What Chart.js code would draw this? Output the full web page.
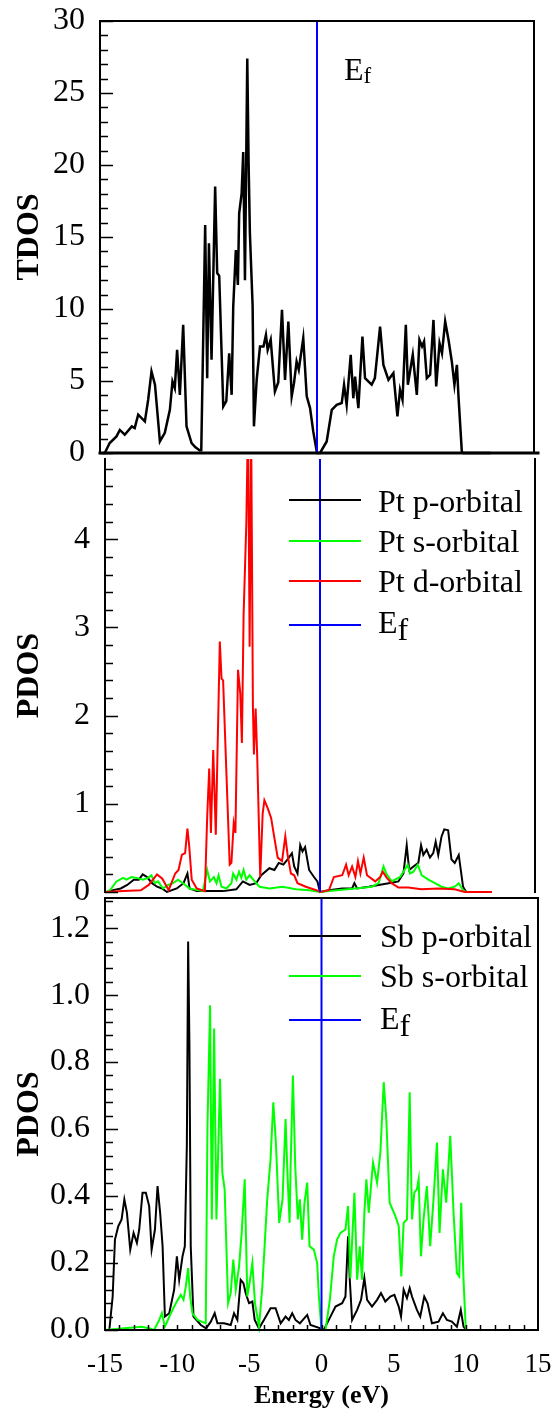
<!DOCTYPE html>
<html><head><meta charset="utf-8">
<script src="https://cdn.jsdelivr.net/npm/chart.js@4.4.1/dist/chart.umd.min.js"></script>
<style>
html,body{margin:0;padding:0;background:#fff;}
body{width:557px;height:1422px;position:relative;overflow:hidden;font-family:"Liberation Serif","Times New Roman",serif;color:#000;}
canvas{position:absolute;left:0;}
.txt{position:absolute;font-size:32px;line-height:32px;white-space:nowrap;}
.sw{position:absolute;height:2px;width:72px;left:289px;}
</style>
</head><body>
<canvas id="c1" width="557" height="475" style="top:0px"></canvas>
<canvas id="c2" width="557" height="490" style="top:430px"></canvas>
<canvas id="c3" width="557" height="552" style="top:870px"></canvas>

<div class="txt" style="left:344px;top:53px">E<span style="font-size:23px;position:relative;top:3px">f</span></div>

<div class="sw" style="top:499px;background:#000"></div>
<div class="txt" style="left:378px;top:485px">Pt p-orbital</div>
<div class="sw" style="top:540px;background:#00ff00"></div>
<div class="txt" style="left:378px;top:525px">Pt s-orbital</div>
<div class="sw" style="top:580px;background:#ff0000"></div>
<div class="txt" style="left:378px;top:565px">Pt d-orbital</div>
<div class="sw" style="top:624px;background:#0000ff"></div>
<div class="txt" style="left:378px;top:606px">E<span style="position:relative;top:7px">f</span></div>

<div class="sw" style="top:935px;background:#000"></div>
<div class="txt" style="left:380px;top:920px">Sb p-orbital</div>
<div class="sw" style="top:975px;background:#00ff00"></div>
<div class="txt" style="left:380px;top:960px">Sb s-orbital</div>
<div class="sw" style="top:1019px;background:#0000ff"></div>
<div class="txt" style="left:380px;top:1002px">E<span style="position:relative;top:7px">f</span></div>

<script>
// ---------- data ----------
const xTicks = [-15, -10, -5, 0, 5, 10, 15];

const energyTDOS = [-14.8,-14.67,-14.33,-13.86,-13.63,-13.29,-12.8,-12.6,-12.36,-11.9,-11.67,-11.44,-11.2,-10.86,-10.52,-10.17,-9.99,-9.83,-9.67,-9.48,-9.25,-9.02,-8.67,-8.4,-8.1,-8.0,-7.73,-7.59,-7.47,-7.29,-7.04,-6.9,-6.76,-6.48,-6.27,-6.07,-5.9,-5.79,-5.61,-5.47,-5.38,-5.21,-5.1,-4.98,-4.92,-4.82,-4.73,-4.64,-4.45,-4.36,-4.17,-3.94,-3.7,-3.53,-3.41,-3.2,-2.91,-2.68,-2.42,-2.21,-1.98,-1.75,-1.59,-1.41,-1.26,-0.95,-0.71,-0.48,-0.26,0.0,0.21,0.67,1.02,1.36,1.71,1.87,2.05,2.33,2.51,2.63,2.86,3.14,3.32,3.78,4.0,4.36,4.59,4.94,5.28,5.56,5.74,5.91,6.14,6.28,6.62,6.9,7.08,7.26,7.4,7.59,7.82,8.05,8.24,8.47,8.64,8.86,9.09,9.32,9.5,9.67,9.78,10.01,10.1,12.0];
const tdos = [0,0,0.69,1.15,1.6,1.27,1.85,1.73,2.66,2.2,3.7,5.66,4.74,0.8,1.4,3.0,4.97,4.5,7.16,4.04,8.9,1.85,0.69,0.4,0.18,0.2,15.83,5.2,14.56,6.47,18.5,12.5,12.3,3.23,3.6,6.93,4.04,10.17,14.1,11.67,16.64,18.03,20.9,12.0,17.8,27.4,20.3,15.3,10.2,1.85,5.08,7.4,7.4,8.2,7.16,7.86,4.27,4.9,9.94,5.08,9.13,3.93,4.85,6.35,5.78,7.97,3.93,3.12,1.5,0,0,0.8,3.0,3.35,3.47,4.74,3.35,6.82,3.8,5.3,3.12,8.09,5.2,4.74,5.2,8.78,6.12,5.08,5.55,2.54,4.39,3.7,8.9,4.74,6.82,4.04,7.86,7.4,7.75,5.2,5.43,9.24,4.62,7.63,6.93,9.13,7.86,6.35,4.74,6.12,3.93,0.1,0,0];

const energyPtD = [-15,-13.7,-12.5,-11.95,-11.37,-11.0,-10.56,-10.1,-9.87,-9.64,-9.41,-9.25,-9.13,-8.95,-8.6,-8.03,-7.87,-7.73,-7.61,-7.45,-7.27,-6.99,-6.87,-6.76,-6.53,-6.3,-6.18,-6.02,-5.9,-5.72,-5.56,-5.45,-5.33,-5.14,-5.02,-4.91,-4.8,-4.68,-4.61,-4.49,-4.38,-4.17,-4.0,-3.88,-3.65,-3.41,-3.18,-2.95,-2.65,-2.42,-2.26,-2.03,-1.8,-1.57,-0.99,-0.07,0,0.62,0.97,1.55,1.82,2.0,2.24,2.47,2.65,2.82,3.05,3.28,3.85,4.2,4.38,4.66,5.0,5.47,6.16,7.08,8.24,9.4,10.1,12.0];
const ptD = [0,0.01,0.02,0.08,0.2,0.15,0.02,0.21,0.25,0.42,0.44,0.72,0.53,0.14,0.04,0.01,0.85,1.4,0.67,1.61,0.65,2.84,2.42,2.4,1.35,0.31,0.33,0.78,0.67,2.52,2.25,1.69,3.14,4.18,5.4,2.78,5.2,2.1,1.56,2.08,1.53,0.17,0.89,1.04,0.95,0.84,0.61,0.39,0.35,0.63,0.42,0.21,0.19,0.1,0.06,0.01,0,0.02,0.17,0.19,0.31,0.19,0.29,0.17,0.35,0.21,0.39,0.19,0.12,0.17,0.23,0.16,0.1,0.05,0.05,0.03,0.04,0.03,0,0];

const energyPtP = [-14.75,-13.9,-13.45,-12.99,-12.64,-12.37,-12.07,-11.72,-11.37,-11.02,-10.68,-9.99,-9.52,-9.25,-9.1,-8.6,-6.76,-5.84,-5.38,-4.91,-4.45,-4.1,-3.53,-3.18,-2.88,-2.56,-2.26,-1.96,-1.8,-1.57,-1.38,-1.22,-1.04,-0.76,-0.42,-0.18,0,0.62,1.55,2.24,2.4,2.59,3.4,4.09,4.79,5.47,5.82,6.05,6.22,6.52,6.86,7.05,7.21,7.44,7.67,7.9,8.07,8.25,8.48,8.67,8.94,9.17,9.4,9.68,9.98,10.2];
const ptP = [0.01,0.04,0.08,0.14,0.14,0.2,0.17,0.1,0.06,0.04,0,0.04,0.1,0.21,0.04,0.01,0.01,0.03,0.12,0.08,0.1,0.19,0.27,0.25,0.33,0.31,0.37,0.44,0.29,0.21,0.53,0.46,0.51,0.25,0.17,0.12,0,0.02,0.04,0.04,0.1,0.04,0.06,0.08,0.1,0.12,0.21,0.53,0.25,0.29,0.33,0.53,0.42,0.48,0.39,0.44,0.57,0.42,0.63,0.71,0.7,0.37,0.33,0.42,0.06,0];

const energyPtS = [-14.9,-14.65,-14.2,-13.74,-13.5,-13.16,-12.8,-12.35,-12.0,-11.76,-11.53,-11.3,-10.95,-10.6,-10.25,-9.9,-9.56,-9.1,-8.17,-7.87,-7.68,-7.41,-7.22,-7.08,-6.87,-6.53,-6.18,-6.06,-5.83,-5.65,-5.49,-5.33,-5.14,-4.91,-4.56,-4.22,-3.53,-2.61,-1.68,-0.76,0,0.62,2.47,3.62,4.09,4.43,4.62,5.0,5.59,5.82,6.12,6.28,6.52,6.82,7.1,7.56,8.02,8.48,8.94,9.4,9.68,9.98,10.2];
const ptS = [0,0.02,0.12,0.16,0.14,0.17,0.16,0.14,0.16,0.19,0.1,0.12,0.04,0.08,0.1,0.14,0.1,0.04,0.01,0.25,0.12,0.17,0.1,0.19,0.06,0.04,0.1,0.21,0.14,0.23,0.16,0.25,0.14,0.19,0.12,0.06,0.04,0.06,0.03,0.02,0,0.01,0.04,0.06,0.1,0.29,0.21,0.12,0.17,0.23,0.31,0.21,0.23,0.31,0.19,0.14,0.1,0.06,0.04,0.06,0.1,0.02,0];

const energySbP = [-14.7,-14.47,-14.31,-14.08,-13.85,-13.66,-13.48,-13.25,-13.02,-12.79,-12.63,-12.4,-12.17,-11.94,-11.77,-11.54,-11.36,-11.18,-11.01,-10.85,-10.55,-10.21,-10.02,-9.86,-9.63,-9.47,-9.33,-9.24,-9.15,-9.06,-8.87,-8.36,-8.0,-7.67,-7.4,-7.21,-6.75,-6.29,-6.06,-5.83,-5.6,-5.41,-5.25,-5.02,-4.79,-4.63,-4.33,-3.99,-3.53,-3.18,-2.83,-2.49,-2.26,-2.03,-1.8,-1.5,-0.99,-0.76,-0.07,0.16,0.62,0.97,1.43,1.66,1.84,1.96,2.12,2.47,2.74,2.97,3.16,3.5,3.85,4.12,4.42,4.77,5.05,5.35,5.51,5.69,5.92,6.11,6.27,6.61,6.84,7.12,7.35,7.65,8.11,8.41,8.69,9.03,9.38,9.65,9.84,10.02];
const sbP = [0,0.1,0.27,0.31,0.33,0.39,0.35,0.24,0.29,0.26,0.3,0.41,0.41,0.37,0.24,0.3,0.43,0.35,0.25,0.04,0.05,0.12,0.22,0.15,0.22,0.25,0.55,1.16,0.85,0.25,0.04,0.015,0.005,0.025,0.05,0.02,0.02,0.015,0.05,0.03,0.15,0.14,0.11,0.08,0.085,0.03,0.005,0.03,0.065,0.065,0.02,0.04,0.03,0.05,0.03,0.02,0.045,0.015,0.005,0,0.04,0.07,0.08,0.1,0.28,0.15,0.03,0.06,0.09,0.155,0.09,0.07,0.09,0.11,0.085,0.1,0.105,0.07,0.04,0.12,0.095,0.125,0.1,0.06,0.04,0.1,0.08,0.02,0.025,0.05,0.03,0.025,0.01,0.06,0.01,0];

const energySbS = [-15,-12.5,-11.94,-11.6,-11.24,-11.06,-10.85,-10.44,-10.09,-9.75,-9.56,-9.4,-9.24,-9.1,-8.94,-8.59,-8.02,-7.9,-7.72,-7.6,-7.44,-7.28,-7.03,-6.87,-6.71,-6.47,-6.29,-6.11,-5.94,-5.71,-5.53,-5.32,-5.14,-4.95,-4.79,-4.61,-4.33,-4.1,-3.76,-3.53,-3.34,-3.16,-2.93,-2.7,-2.49,-2.37,-2.21,-2.14,-1.98,-1.82,-1.64,-1.5,-1.34,-1.18,-0.99,-0.83,-0.53,-0.3,-0.18,0,0.28,0.58,0.85,1.08,1.31,1.66,1.84,2.0,2.28,2.47,2.65,2.81,2.97,3.11,3.27,3.57,3.85,4.08,4.31,4.49,4.72,5.12,5.35,5.53,5.69,5.92,6.11,6.27,6.43,6.61,6.73,6.89,7.07,7.3,7.53,7.76,8.0,8.18,8.41,8.64,8.92,9.15,9.38,9.54,9.68,9.84,10.0,12.0];
const sbS = [0,0.01,0.005,0,0.03,0.05,0.01,0.05,0.08,0.105,0.09,0.13,0.185,0.1,0.05,0.03,0.02,0.61,0.97,0.33,0.9,0.33,0.75,0.47,0.42,0.08,0.11,0.21,0.12,0.19,0.29,0.45,0.1,0.15,0.2,0.08,0.01,0.13,0.39,0.51,0.68,0.56,0.32,0.39,0.63,0.48,0.32,0.49,0.76,0.49,0.33,0.39,0.27,0.38,0.44,0.25,0.24,0.2,0.1,0,0,0.09,0.22,0.27,0.29,0.3,0.37,0.155,0.41,0.15,0.25,0.15,0.35,0.45,0.35,0.5,0.44,0.53,0.74,0.63,0.38,0.34,0.31,0.16,0.32,0.33,0.71,0.33,0.41,0.42,0.45,0.22,0.33,0.43,0.25,0.39,0.56,0.29,0.48,0.38,0.58,0.35,0.17,0.16,0.38,0.15,0,0];

const fermiEnergy = [0, 0];

// ---------- helpers ----------
const pts = (xs, ys) => xs.map((x, i) => ({x, y: ys[i]}));
Chart.defaults.font.family = "'Liberation Serif','Times New Roman',serif";
Chart.defaults.color = '#000';

const framePlugin = {
  id: 'frame',
  afterDatasetsDraw(chart, args, o) {
    const {ctx, chartArea: a, scales: {x, y}} = chart;
    ctx.save();
    ctx.strokeStyle = '#000';
    ctx.lineCap = 'square';
    ctx.lineWidth = 2;
    ctx.beginPath();
    const s = o.sides || [];
    if (s.includes('left')) { ctx.moveTo(a.left, a.top); ctx.lineTo(a.left, a.bottom); }
    if (s.includes('right')) { ctx.moveTo(a.right, a.top); ctx.lineTo(a.right, a.bottom); }
    if (s.includes('top')) { ctx.moveTo(a.left, a.top); ctx.lineTo(a.right, a.top); }
    ctx.stroke();
    if (s.includes('bottom')) {
      ctx.lineWidth = o.bottomWidth || 2;
      ctx.beginPath();
      ctx.moveTo(a.left, a.bottom); ctx.lineTo(a.right + (o.bottomExtra || 0), a.bottom);
      ctx.stroke();
    }
    ctx.lineCap = 'butt';
    ctx.lineWidth = 1.5;
    ctx.beginPath();
    if (o.yStep) {
      const n = Math.floor((y.max - y.min) / o.yStep + 1e-6);
      for (let i = 0; i <= n; i++) {
        const v = y.min + i * o.yStep;
        const py = Math.round(y.getPixelForValue(v)) + 0.5;
        const len = (i % o.yMajorEvery === 0) ? 13 : 8;
        ctx.moveTo(a.left, py); ctx.lineTo(a.left + len, py);
      }
    }
    if (o.xStep) {
      const n = Math.round((x.max - x.min) / o.xStep);
      for (let i = 1; i < n; i++) {
        const v = x.min + i * o.xStep;
        const px = Math.round(x.getPixelForValue(v)) + 0.5;
        ctx.moveTo(px, a.bottom); ctx.lineTo(px, a.bottom - 5);
      }
    }
    ctx.stroke();
    ctx.restore();
  }
};
Chart.register(framePlugin);

function yAxis(min, max, step, title, width, pad, fmt) {
  return {
    min, max,
    ticks: {stepSize: step, includeBounds: false, font: {size: 32}, color: '#000', padding: pad,
            callback: fmt || (v => v)},
    grid: {display: false, drawTicks: false},
    border: {display: false},
    title: {display: true, text: title, color: '#000', font: {size: 32, weight: 'bold'}, padding: {top: 11, bottom: 0}},
    afterFit(s) { s.width = width; s.paddingTop = 0; s.paddingBottom = 0; }
  };
}
function line(label, data, color, order, w) {
  return {label, data, borderColor: color, backgroundColor: color, borderWidth: w || 2, order,
          pointRadius: 0, tension: 0, fill: false, clip: {left: 3, right: 3, top: 0, bottom: 3}};
}
const baseOpts = {responsive: false, animation: false, devicePixelRatio: 1,
  events: [], plugins: {legend: {display: false}, tooltip: {enabled: false}}};

// ---------- top: TDOS ----------
new Chart(document.getElementById('c1'), {
  type: 'line',
  data: {datasets: [
    line('Ef', pts(fermiEnergy, [0, 30]), '#0000ff', 0),
    line('TDOS', pts(energyTDOS, tdos), '#000000', 1, 2.5)
  ]},
  options: Object.assign({}, baseOpts, {
    layout: {padding: {top: 21, right: 23, bottom: 22, left: 0}},
    plugins: Object.assign({}, baseOpts.plugins, {frame: {sides: ['left','right','top','bottom'], yStep: 1, yMajorEvery: 5, bottomExtra: 4, bottomWidth: 3}}),
    scales: {
      x: {type: 'linear', min: -15, max: 15, display: false},
      y: yAxis(0, 30, 5, 'TDOS', 100, 15)
    }
  })
});

// ---------- middle: Pt PDOS ----------
new Chart(document.getElementById('c2'), {
  type: 'line',
  data: {datasets: [
    line('Ef', pts(fermiEnergy, [0, 4.91]), '#0000ff', 0),
    line('Pt d-orbital', pts(energyPtD, ptD), '#ff0000', 1),
    line('Pt s-orbital', pts(energyPtS, ptS), '#00ff00', 2),
    line('Pt p-orbital', pts(energyPtP, ptP), '#000000', 3)
  ]},
  options: Object.assign({}, baseOpts, {
    layout: {padding: {top: 29, right: 22, bottom: 28, left: 0}},
    plugins: Object.assign({}, baseOpts.plugins, {frame: {sides: ['left','right'], yStep: 0.2, yMajorEvery: 5}}),
    scales: {
      x: {type: 'linear', min: -15, max: 15, display: false},
      y: yAxis(0, 4.91, 1, 'PDOS', 105, 15)
    }
  })
});

// ---------- bottom: Sb PDOS ----------
new Chart(document.getElementById('c3'), {
  type: 'line',
  data: {datasets: [
    line('Ef', pts(fermiEnergy, [0, 1.29]), '#0000ff', 0),
    line('Sb s-orbital', pts(energySbS, sbS), '#00ff00', 1),
    line('Sb p-orbital', pts(energySbP, sbP), '#000000', 2)
  ]},
  options: Object.assign({}, baseOpts, {
    layout: {padding: {top: 28, right: 19, bottom: 0, left: 0}},
    plugins: Object.assign({}, baseOpts.plugins, {frame: {sides: ['left','right','top','bottom'], yStep: 0.04, yMajorEvery: 5, xStep: 1}}),
    scales: {
      x: {type: 'linear', min: -15, max: 15,
          afterBuildTicks(s) { s.ticks = xTicks.map(v => ({value: v})); },
          ticks: {font: {size: 27}, color: '#000', padding: 19, maxRotation: 0, autoSkip: false},
          grid: {display: false, drawTicks: false}, border: {display: false},
          title: {display: true, text: 'Energy (eV)', color: '#000', font: {size: 26, weight: 'bold'}, padding: {top: 0, bottom: 10}},
          afterFit(s) { s.height = 92; s.paddingLeft = 0; s.paddingRight = 0; }},
      y: yAxis(0, 1.29, 0.2, 'PDOS', 105, 15, v => v.toFixed(1))
    }
  })
});
</script>
</body></html>
